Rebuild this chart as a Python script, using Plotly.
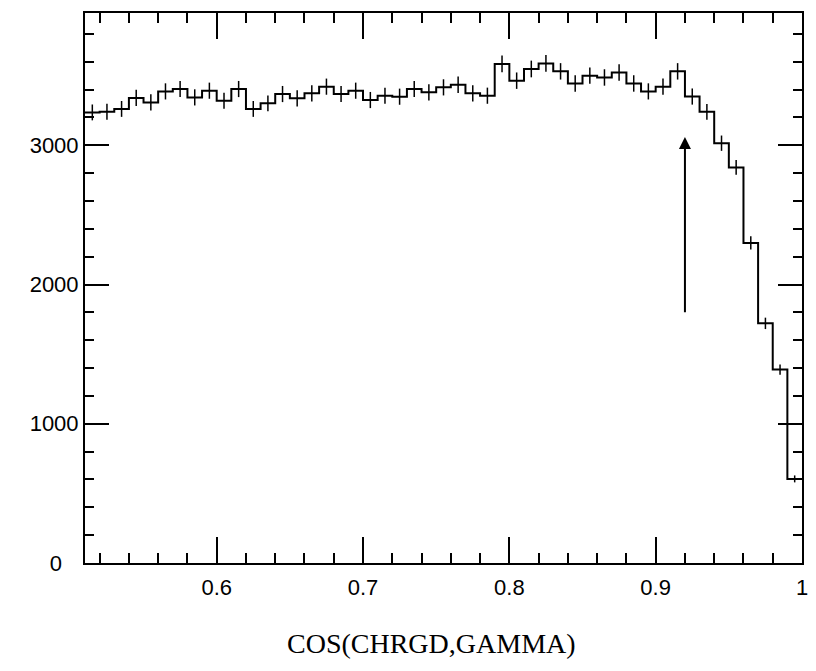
import plotly.graph_objects as go

# ---- data ----
bin_width = 0.01
bin_start = 0.51
counts = [3236, 3241, 3261, 3340, 3308, 3387, 3404, 3344, 3392, 3320,
          3404, 3261, 3301, 3368, 3337, 3373, 3421, 3368, 3392, 3325,
          3356, 3349, 3404, 3380, 3416, 3435, 3373, 3356, 3584, 3464,
          3548, 3588, 3531, 3444, 3500, 3487, 3523, 3444, 3387, 3421,
          3531, 3350, 3240, 3015, 2841, 2299, 1721, 1389, 604]
errors = [57, 57, 57, 58, 58, 58, 58, 58, 58, 58,
          58, 57, 57, 58, 58, 58, 58, 58, 58, 58,
          58, 58, 58, 58, 58, 59, 58, 58, 60, 59,
          60, 60, 59, 59, 59, 59, 59, 59, 58, 58,
          59, 58, 57, 55, 53, 48, 41, 37, 25]
x_tickvals = [0.6, 0.7, 0.8, 0.9, 1.0]
x_ticktext = ["0.6", "0.7", "0.8", "0.9", "1"]
y_tickvals = [0, 1000, 2000, 3000]
y_ticktext = ["0\u2007\u2009", "1000", "2000", "3000"]
arrow_x = 0.92
arrow_y0 = 1790
arrow_y1 = 3060
x_title = "COS(CHRGD,GAMMA)"

n = len(counts)
edges = [round(bin_start + bin_width * i, 4) for i in range(n + 1)]
centers = [round(bin_start + bin_width * (i + 0.5), 4) for i in range(n)]

fig = go.Figure()
fig.add_trace(go.Scatter(
    x=edges, y=counts + [counts[-1]], mode="lines",
    line=dict(shape="hv", color="black", width=2),
    hoverinfo="skip", showlegend=False))
fig.add_trace(go.Scatter(
    x=centers, y=counts, mode="markers",
    marker=dict(size=1, color="black", opacity=0),
    error_y=dict(type="data", array=errors, visible=True,
                 color="black", thickness=1.5, width=0),
    showlegend=False, hoverinfo="skip"))

fig.add_annotation(x=arrow_x, y=arrow_y1, ax=arrow_x, ay=arrow_y0,
                   xref="x", yref="y", axref="x", ayref="y",
                   showarrow=True, arrowhead=2, arrowsize=1.2,
                   arrowwidth=2, arrowcolor="black", text="")

fig.add_annotation(x=0.4827, y=-0.147, xref="paper", yref="paper",
                   text=x_title, showarrow=False, xanchor="center",
                   yanchor="middle",
                   font=dict(family="Liberation Serif", size=28, color="black"))

axis_common = dict(showline=True, linecolor="black", linewidth=2,
                   mirror="allticks", ticks="inside", tickcolor="black",
                   tickwidth=1.5, showgrid=False, zeroline=False,
                   tickfont=dict(family="Liberation Sans", size=22, color="black"))

fig.update_xaxes(range=[bin_start, 1.0], tickvals=x_tickvals, ticktext=x_ticktext,
                 ticklen=26, ticklabelstandoff=4,
                 minor=dict(ticks="inside", ticklen=10, dtick=0.02, tick0=0.5,
                            tickcolor="black", tickwidth=1.5, showgrid=False),
                 **axis_common)
fig.update_yaxes(range=[0, 3950], tickvals=y_tickvals, ticktext=y_ticktext,
                 ticklen=24,
                 minor=dict(ticks="inside", ticklen=9, dtick=200, tick0=0,
                            tickcolor="black", tickwidth=1.5, showgrid=False),
                 **axis_common)

fig.update_layout(width=816, height=671,
                  margin=dict(l=85, r=8, t=13, b=108),
                  plot_bgcolor="white", paper_bgcolor="white")

fig.write_html("out.html")
